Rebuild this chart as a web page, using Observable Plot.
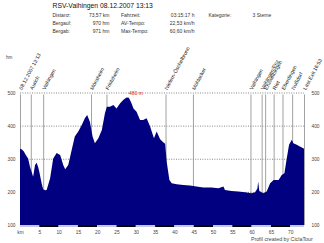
<!DOCTYPE html>
<html>
<head>
<meta charset="utf-8">
<script src="https://cdn.jsdelivr.net/npm/d3@7"></script>
<script src="https://cdn.jsdelivr.net/npm/@observablehq/plot@0.6"></script>
<style>
  html, body { margin: 0; padding: 0; background: #fff; }
  #wrap { position: relative; width: 324px; height: 243px; overflow: hidden; font-family: "Liberation Sans", Arial, sans-serif; }
  #wrap svg { position: absolute; left: 0; top: 0; }
  .t { position: absolute; white-space: nowrap; line-height: 1; color: #333; }
  .r { text-align: right; }
</style>
</head>
<body>
<div id="wrap"></div>
<script>
// ---- data ----
const title = "RSV-Vaihingen 08.12.2007 13:13";
const statLabels1 = ["Distanz:", "Bergauf:", "Bergab:"];
const statValues1 = ["73,57 km", "970 hm", "971 hm"];
const statLabels2 = ["Fahrzeit:", "AV-Tempo:", "Max-Tempo:"];
const statValues2 = ["03:15:17 h", "22,53 km/h", "60,60 km/h"];
const statLabel3 = "Kategorie:";
const statValue3 = "3 Sterne";
const footer = "Profil created by CiclaTour";
const totalKm = 73.57;

const km = [0, 0.5, 1.0, 1.5, 2.1, 2.6, 3.0, 3.4, 3.9, 4.3, 4.7, 5.0, 5.6, 6.0, 6.5, 6.9, 7.8, 8.6, 9.5, 10.4,
  11.2, 11.7, 12.5, 13.4, 14.2, 15.1, 16.0, 16.8, 17.4, 18.1, 18.8, 19.4, 20.3, 21.2, 22.0, 22.5, 23.3, 24.2, 25.0, 25.9,
  26.8, 27.6, 28.2, 28.8, 29.4, 30.2, 31.1, 31.9, 32.8, 33.7, 34.7, 35.4, 36.3, 37.1, 37.6, 38.0, 38.7, 39.3, 40.6, 42.3,
  44.0, 45.7, 47.5, 49.6, 51.4, 52.7, 53.1, 54.8, 56.5, 58.3, 60.0, 60.9, 61.5, 61.7, 62.0, 63.0, 63.9, 64.8, 65.7, 67.0,
  67.8, 68.5, 69.1, 69.7, 70.4, 70.8, 71.7, 72.5, 73.4, 73.57];
const elev = [330, 328, 322, 311, 301, 275, 261, 246, 281, 288, 275, 261, 226, 208, 205, 206, 241, 301, 317, 311,
  281, 268, 281, 327, 367, 382, 402, 422, 432, 412, 367, 347, 362, 387, 437, 457, 457, 462, 452, 467,
  478, 485, 484, 470, 452, 442, 417, 417, 422, 397, 362, 382, 359, 350, 345, 291, 236, 226, 223, 221,
  219, 216, 213, 213, 211, 216, 206, 203, 201, 199, 196, 199, 210, 231, 203, 196, 201, 226, 236, 236,
  251, 256, 301, 342, 357, 347, 342, 337, 332, 330];

const markerKm = [0, 2.8, 6.0, 18.4, 22.4, 37.7, 44.8, 59.7, 62.6, 63.5, 65.7, 68.0, 70.5, 73.57];
const markerNames = ["08.12.2007 13:13", "Aurich", "Vaihingen", "Mönsheim", "Friolzheim", "Niefern-Öschelbronn",
  "Mühlacker", "Vaihingen", "Vaihingen/Enz", "Enzweihingen", "Riet", "Eberdingen", "Nußdorf", "Last Exit 16:53"];

const xTicks = [0, 5, 10, 15, 20, 25, 30, 35, 40, 45, 50, 55, 60, 65, 70];
const yTicks = [100, 200, 300, 400, 500];
const gridY = [200, 300, 400, 500];
const peakLabel = "480 m";

// ---- build ----
const profile = km.map((k, i) => ({km: k, elev: elev[i]}));
const markers = markerKm.map((k, i) => ({km: k, name: markerNames[i]}));
const stripes = xTicks.map((s, i) => ({x1: s, x2: Math.min(s + 5, totalKm), dark: i % 2 === 1}));
const peak = profile.reduce((a, b) => (b.elev > a.elev ? b : a));

const chart = Plot.plot({
  width: 324,
  height: 243,
  marginLeft: 20,
  marginRight: 20,
  marginTop: 92.5,
  marginBottom: 18,
  x: {domain: [0, totalKm]},
  y: {domain: [100, 500]},
  style: {fontFamily: "'Liberation Sans', Arial, sans-serif", fontSize: "4.8px", color: "#444", background: "transparent", overflow: "visible"},
  marks: [
    Plot.ruleY(gridY, {y: d => d, stroke: "#555", strokeWidth: 0.7, strokeDasharray: "1,1.4"}),
    Plot.ruleX(markers, {x: "km", y1: 100, y2: 494, stroke: "#8a8a8a", strokeWidth: 0.8}),
    Plot.areaY(profile, {x: "km", y1: 100, y2: "elev", fill: "#000080", curve: "linear"}),
    Plot.rect(stripes, {x1: "x1", x2: "x2", y1: 94, y2: 100, fill: d => (d.dark ? "#000" : "#c4c8dc")}),
    Plot.text(markers, {x: "km", y: 511, text: "name", rotate: -62, textAnchor: "start", fill: "#222", fontSize: 5.2}),
    Plot.text([peak], {x: "km", y: 500, text: () => peakLabel, textAnchor: "start", dx: 2, fill: "#e0302a", fontSize: 5}),
    Plot.axisX({ticks: xTicks, tickSize: 0, tickPadding: 5, tickFormat: d => (d === 0 ? "km" : d), label: null, fill: "#444"}),
    Plot.axisY({ticks: yTicks, tickSize: 0, tickPadding: 5, anchor: "left", label: null, fill: "#444"}),
    Plot.axisY({ticks: yTicks, tickSize: 0, tickPadding: 7, anchor: "right", label: null, fill: "#444"})
  ]
});

const wrap = document.getElementById("wrap");
wrap.appendChild(chart);

function addText(txt, opts) {
  const d = document.createElement("div");
  d.className = "t" + (opts.right != null ? " r" : "");
  d.textContent = txt;
  d.style.fontSize = opts.size + "px";
  d.style.top = opts.top + "px";
  if (opts.left != null) d.style.left = opts.left + "px";
  if (opts.right != null) d.style.right = opts.right + "px";
  if (opts.color) d.style.color = opts.color;
  wrap.appendChild(d);
}

addText(title, {size: 6.8, top: 2.5, left: 52.5, color: "#111"});
const rowTops = [13.0, 21.0, 29.0];
statLabels1.forEach((s, i) => addText(s, {size: 5, top: rowTops[i], left: 52.5}));
statValues1.forEach((s, i) => addText(s, {size: 5, top: rowTops[i], right: 324 - 109.5}));
statLabels2.forEach((s, i) => addText(s, {size: 5, top: rowTops[i], left: 121}));
statValues2.forEach((s, i) => addText(s, {size: 5, top: rowTops[i], right: 324 - 194.5}));
addText(statLabel3, {size: 5, top: rowTops[0], left: 208.5});
addText(statValue3, {size: 5, top: rowTops[0], left: 252.5});
addText("hm", {size: 4.6, top: 56, left: 6, color: "#444"});
addText(footer, {size: 5.3, top: 237, right: 11.3, color: "#444"});
</script>
</body>
</html>
